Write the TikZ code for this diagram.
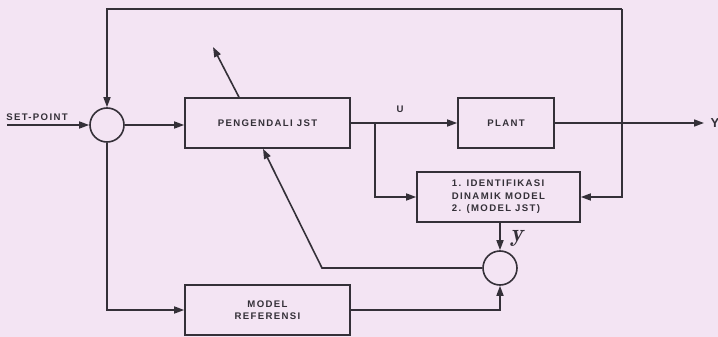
\documentclass[tikz,border=0pt]{standalone}
\usepackage{fontspec}
\setmainfont{Liberation Sans}
\usetikzlibrary{arrows.meta,calc}
\definecolor{bg}{RGB}{243,228,243}
\definecolor{ink}{RGB}{52,48,56}
\begin{document}
\begin{tikzpicture}[x=1pt,y=-1pt,
  ln/.style={draw=ink, line width=1.6pt},
  arr/.style={ln, -{Triangle[length=10pt,width=7pt]}},
  lbl/.style={font=\bfseries\fontsize{9.6}{12.5}\selectfont\addfontfeature{LetterSpace=14}, text=ink},
  blk/.style={ln, rectangle, inner sep=0pt, lbl},
  sumc/.style={ln, circle, minimum size=34pt, inner sep=0pt, fill=bg}
]
\fill[bg] (0,0) rectangle (718,337);
\useasboundingbox (0,0) rectangle (718,337);

% blocks
\node[sumc] (s1) at (107,125) {};
\node[blk, minimum width=165pt, minimum height=50pt] (ctrl) at (267.5,123) {PENGENDALI JST};
\node[blk, minimum width=96pt, minimum height=50pt] (plant) at (506,123) {PLANT};
\node[blk, minimum width=163pt, minimum height=50pt, align=left] (id) at (498.5,197) {1. IDENTIFIKASI\\DINAMIK MODEL\\2. (MODEL JST)};
\node[sumc] (s2) at (500,268) {};
\node[blk, minimum width=165pt, minimum height=50pt, align=center] (ref) at (267.5,310) {MODEL\\REFERENSI};

% coordinates
\coordinate (sp) at (7,125);
\coordinate (out) at (704,123);
\coordinate (b1) at (375,123);
\coordinate (fbtop) at (622,9);
\coordinate (adapt) at (213,47);
\coordinate (kink) at (322,268);
\coordinate (ctrlin) at ([xshift=-4.5pt]ctrl.south);
\coordinate (ctrlout) at ([xshift=-28.5pt]ctrl.north);

% labels
\node[lbl] (tsp) at (37,117) {SET-POINT};
\node[lbl] (tu) at (400,109) {U};
\node[lbl, anchor=west, font=\bfseries\fontsize{13}{13}\selectfont] (ty) at (707,123) {Y};
\node[text=ink, font=\fontfamily{lmr}\bfseries\itshape\fontsize{25}{25}\selectfont] (tyh) at (517,238) {y};

% connectors
\draw[arr] (sp) -- (s1);
\draw[arr] (s1) -- (s1 -| ctrl.west);
\draw[arr] (ctrl) -- (plant);
\draw[arr] (plant) -- (out);
\draw[arr] (b1) -- (b1 |- id.west) -- (id.west);
\draw[arr] (fbtop) -- (fbtop |- id.east) -- (id.east);
\draw[arr] (fbtop) -- (s1 |- fbtop) -- (s1.north);
\draw[arr] (ctrlout) -- (adapt);
\draw[arr] (id.south -| s2) -- (s2.north);
\draw[arr] (s2.west) -- (kink) -- (ctrlin);
\draw[arr] (s1.south) -- (s1 |- ref.west) -- (ref.west);
\draw[arr] (ref.east) -- (ref.east -| s2.south) -- (s2.south);
\end{tikzpicture}
\end{document}
